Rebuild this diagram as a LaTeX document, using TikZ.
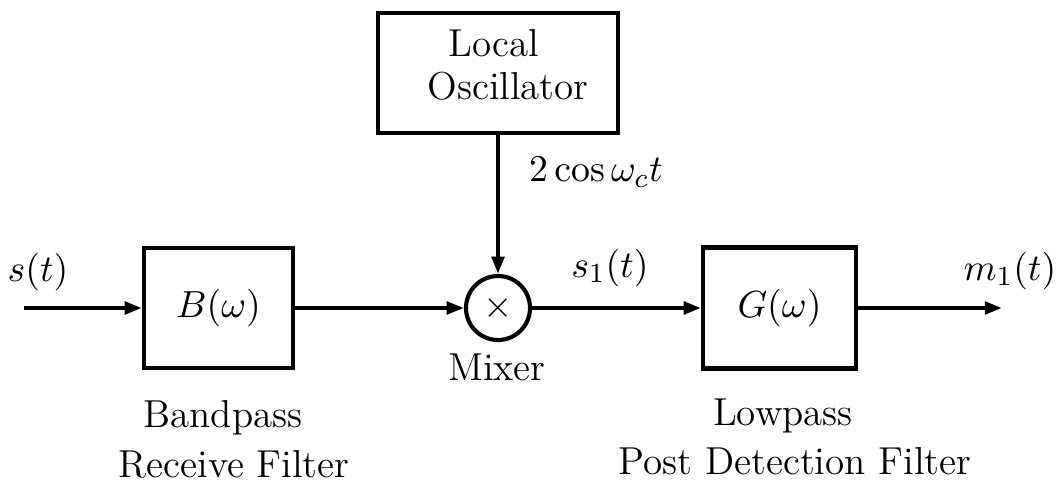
\documentclass[tikz,border=0pt]{standalone}
\usetikzlibrary{arrows.meta}
\begin{document}
\begin{tikzpicture}[x=0.29pt,y=-0.29pt,
  every node/.style={font=\fontsize{11.3pt}{13.6pt}\selectfont},
  blk/.style={draw,line width=1.2pt,inner sep=0pt},
  conn/.style={line width=1.2pt,-{Triangle[length=5pt,width=3.6pt]}},
  lbl/.style={anchor=base,inner sep=0pt}]
\useasboundingbox (0,0) rectangle (1063,485);
% blocks
\node[blk,minimum width=149*0.29pt,minimum height=120*0.29pt] (B) at (218.5,308) {$B(\omega)$};
\node[blk,minimum width=153*0.29pt,minimum height=121*0.29pt] (G) at (779.5,308) {$G(\omega)$};
\node[blk,minimum width=240*0.29pt,minimum height=120*0.29pt] (LO) at (498,73) {};
\node[blk,circle,minimum size=64*0.29pt] (mix) at (498,308) {$\times$};
% LO text
\node[lbl] (lot1) at (494,57) {Local};
\node[lbl] (lot2) at (508,100) {Oscillator};
% terminals
\coordinate (in) at (24,308);
\coordinate (out) at (1002,308);
% connectors
\draw[conn] (in) -- (B);
\draw[conn] (B) -- (mix);
\draw[conn] (LO) -- (mix);
\draw[conn] (mix) -- (G);
\draw[conn] (G) -- (out);
% labels
\node[lbl] (ls) at (38,281) {$s(t)$};
\node[lbl] (lcos) at (596,182) {$2\cos\omega_c t$};
\node[lbl] (ls1) at (610,277) {$s_1(t)$};
\node[lbl] (lm1) at (1010,280) {$m_1(t)$};
\node[lbl] (lmix) at (497,380) {Mixer};
\node[lbl] (lb1) at (223,427) {Bandpass};
\node[lbl] (lb2) at (234,477) {Receive Filter};
\node[lbl] (lg1) at (783,425) {Lowpass};
\node[lbl] (lg2) at (795,474) {Post Detection Filter};
\end{tikzpicture}
\end{document}
